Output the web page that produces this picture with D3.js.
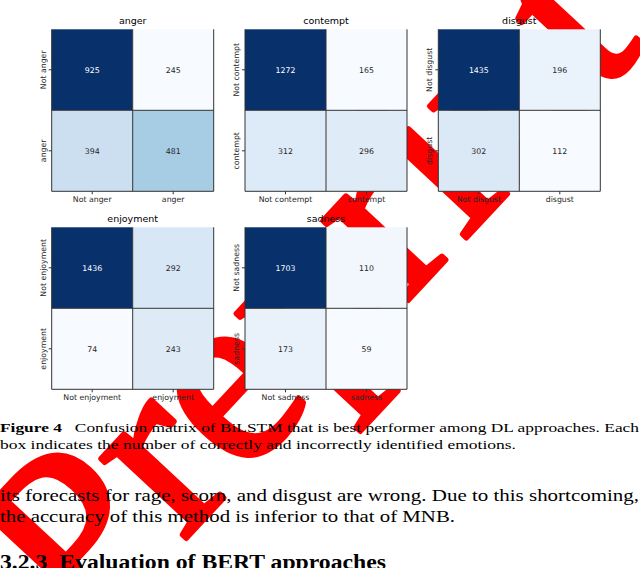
<!DOCTYPE html>
<html>
<head>
<meta charset="utf-8">
<script src="https://cdn.jsdelivr.net/npm/d3@7"></script>
<style>
  body { margin: 0; background: #fff; }
  svg { display: block; }
</style>
</head>
<body>
<div id="chart"></div>
<script>
// confusion matrix counts, rows = true label, cols = predicted
const emotions = ["anger", "contempt", "disgust", "enjoyment", "sadness"];
const angerCounts = [[925, 245], [394, 481]];
const contemptCounts = [[1272, 165], [312, 296]];
const disgustCounts = [[1435, 196], [302, 112]];
const enjoymentCounts = [[1436, 292], [74, 243]];
const sadnessCounts = [[1703, 110], [173, 59]];
const allCounts = [angerCounts, contemptCounts, disgustCounts, enjoymentCounts, sadnessCounts];

const captionLines = [
  "Confusion matrix of BiLSTM that is best performer among DL approaches. Each",
  "box indicates the number of correctly and incorrectly identified emotions."
];
const bodyLines = [
  "its forecasts for rage, scorn, and disgust are wrong. Due to this shortcoming,",
  "the accuracy of this method is inferior to that of MNB."
];

const W = 640, H = 568;
const svg = d3.select("#chart").append("svg")
  .attr("width", W)
  .attr("height", H);

// watermark (drawn first, heatmaps cover it)
svg.append("text")
  .attr("transform", "translate(86,646) rotate(-47)")
  .attr("font-family", "Liberation Serif")
  .attr("font-size", 255)
  .attr("fill", "#ff0000")
  .attr("stroke", "#ff0000")
  .attr("stroke-width", 5)
  .attr("stroke-linejoin", "round")
  .text("Preprint");

// panel layout
const size = 162;
const colX = [51.7, 245, 438.3];
const rowY = [29.3, 227.3];

emotions.forEach((emo, i) => {
  const counts = allCounts[i];
  const x0 = colX[i % 3], y0 = rowY[Math.floor(i / 3)];
  const labels = ["Not " + emo, emo];
  const flat = counts.flat();

  const x = d3.scaleBand().domain(labels).range([0, size]);
  const y = d3.scaleBand().domain(labels).range([0, size]);
  const color = d3.scaleSequential(d3.interpolateBlues)
    .domain([d3.min(flat), d3.max(flat)]);

  const g = svg.append("g").attr("transform", `translate(${x0},${y0})`);

  const cells = [];
  labels.forEach((r, ri) => labels.forEach((c, ci) => cells.push({ r, c, v: counts[ri][ci] })));

  g.selectAll("rect.cell")
    .data(cells)
    .join("rect")
    .attr("class", "cell")
    .attr("x", d => x(d.c))
    .attr("y", d => y(d.r))
    .attr("width", x.bandwidth())
    .attr("height", y.bandwidth())
    .attr("fill", d => color(d.v));

  g.selectAll("text.val")
    .data(cells)
    .join("text")
    .attr("class", "val")
    .attr("x", d => x(d.c) + x.bandwidth() / 2)
    .attr("y", d => y(d.r) + y.bandwidth() / 2)
    .attr("dy", "0.35em")
    .attr("text-anchor", "middle")
    .attr("font-family", "DejaVu Sans")
    .attr("font-size", 7.8)
    .attr("fill", d => {
      const c = d3.rgb(color(d.v));
      const lum = 0.2126 * c.r + 0.7152 * c.g + 0.0722 * c.b;
      return lum > 105 ? "#262626" : "#ffffff";
    })
    .text(d => d.v);

  // grid lines between and around cells
  const lines = g.append("g")
    .attr("stroke", "#333")
    .attr("stroke-width", 1);
  lines.append("line").attr("x1", x(labels[1])).attr("x2", x(labels[1])).attr("y1", 0).attr("y2", size);
  lines.append("line").attr("x1", 0).attr("x2", size).attr("y1", y(labels[1])).attr("y2", y(labels[1]));
  lines.append("path").attr("fill", "none")
    .attr("d", `M0,0V${size}H${size}V0`);

  // axes
  const xAxis = g.append("g")
    .attr("transform", `translate(0,${size})`)
    .call(d3.axisBottom(x).tickSize(3).tickPadding(2));
  const yAxis = g.append("g")
    .call(d3.axisLeft(y).tickSize(3).tickPadding(2));
  [xAxis, yAxis].forEach(a => {
    a.select(".domain").remove();
    a.selectAll("line").attr("stroke", "#333");
    a.selectAll("text")
      .attr("font-family", "DejaVu Sans")
      .attr("font-size", 7.8)
      .attr("fill", "#262626");
  });
  yAxis.selectAll("text")
    .attr("transform", "rotate(-90)")
    .attr("x", 0)
    .attr("y", -6)
    .attr("dy", 0)
    .attr("text-anchor", "middle");

  g.append("text")
    .attr("x", size / 2)
    .attr("y", -5)
    .attr("text-anchor", "middle")
    .attr("font-family", "DejaVu Sans")
    .attr("font-size", 9.5)
    .attr("fill", "#000")
    .text(emo);
});

// caption
const cap = svg.append("g")
  .attr("font-family", "Liberation Serif")
  .attr("fill", "#000");
cap.append("text")
  .attr("x", 0).attr("y", 432)
  .attr("font-size", 13.5)
  .attr("textLength", 639)
  .attr("lengthAdjust", "spacingAndGlyphs")
  .html(`<tspan font-weight="bold">Figure 4</tspan>\u2002 ${captionLines[0]}`);
cap.append("text")
  .attr("x", 0).attr("y", 449)
  .attr("font-size", 13.5)
  .attr("textLength", 516)
  .attr("lengthAdjust", "spacingAndGlyphs")
  .text(captionLines[1]);

bodyLines.forEach((t, i) => {
  cap.append("text")
    .attr("x", 0).attr("y", 501 + i * 21)
    .attr("font-size", 17)
    .attr("textLength", i === 0 ? 639 : 455)
    .attr("lengthAdjust", "spacingAndGlyphs")
    .text(t);
});

cap.append("text")
  .attr("x", 0).attr("y", 569)
  .attr("font-size", 21)
  .attr("font-weight", "bold")
  .attr("textLength", 386)
  .attr("lengthAdjust", "spacingAndGlyphs")
  .text("3.2.3\u2002Evaluation of BERT approaches");
</script>
</body>
</html>
